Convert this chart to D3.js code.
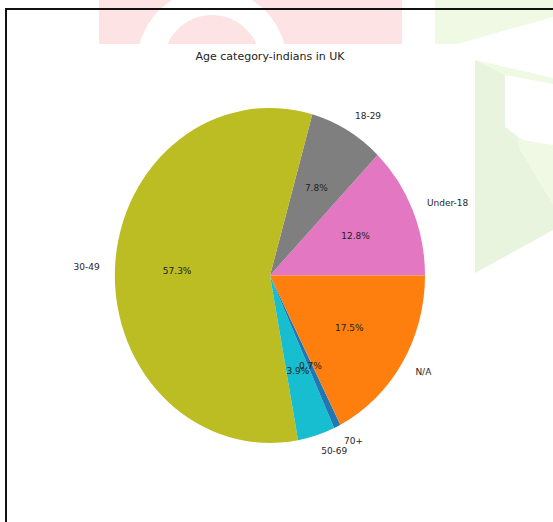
<!DOCTYPE html>
<html>
<head>
<meta charset="utf-8">
<script src="https://cdn.jsdelivr.net/npm/d3@7"></script>
<style>
  html, body { margin: 0; padding: 0; background: #fff; }
  svg { display: block; }
  text { font-family: "DejaVu Sans", sans-serif; }
</style>
</head>
<body>
<div id="chart"></div>
<script>
// ---- data ----
const title = "Age category-indians in UK";
const categories = ["Under-18", "18-29", "30-49", "50-69", "70+", "N/A"];
const values = [12.8, 7.8, 57.3, 3.9, 0.7, 17.5];
const colors = ["#e377c2", "#7f7f7f", "#bcbd22", "#17becf", "#1f77b4", "#ff7f0e"];

// ---- layout ----
const W = 553, H = 522;
const cx = 270, cy = 275.5, rx = 155, ry = 167.5;

const svg = d3.select("#chart").append("svg")
  .attr("width", W).attr("height", H);

svg.append("rect").attr("width", W).attr("height", H).attr("fill", "#fff");

// faint watermark in background
const wm = svg.append("g");
wm.append("rect").attr("x", 99).attr("y", 0).attr("width", 303).attr("height", 44).attr("fill", "#fde3e3");
wm.append("path")
  .attr("d", d3.arc().innerRadius(48.6).outerRadius(75).startAngle(-Math.PI / 2).endAngle(Math.PI / 2)())
  .attr("transform", "translate(212,63.6)")
  .attr("fill", "#fff");
wm.append("rect").attr("x", 99).attr("y", 44).attr("width", 303).attr("height", 40).attr("fill", "#fff");
wm.append("polygon").attr("points", "435,0 553,0 553,17 457,44 435,44").attr("fill", "#eff9e4");
wm.append("polygon").attr("points", "475,60 553,78 553,230 475,273").attr("fill", "#eff9e4");
wm.append("polygon").attr("points", "475,60 505,75 520,150 553,205 553,230 475,273").attr("fill", "#e9f4de");
wm.append("polygon").attr("points", "505,75 553,84 553,145 523,140 505,127").attr("fill", "#fff");

// frame
svg.append("path").attr("d", `M6,${H} L6,9 L${W},9`)
  .attr("fill", "none").attr("stroke", "#111").attr("stroke-width", 2);

// title
svg.append("text")
  .attr("x", cx).attr("y", 60)
  .attr("text-anchor", "middle")
  .attr("font-size", 11)
  .attr("fill", "#222")
  .text(title);

// pie: matplotlib style - start at 3 o'clock, counterclockwise
const data = categories.map((c, i) => ({ label: c, value: values[i], color: colors[i] }));
const pie = d3.pie().value(d => d.value).sort(null)
  .startAngle(Math.PI / 2).endAngle(Math.PI / 2 - 2 * Math.PI);
const arcs = pie(data);

const unitArc = d3.arc().innerRadius(0).outerRadius(1);

const g = svg.append("g").attr("transform", `translate(${cx},${cy})`);
g.append("g").attr("transform", `scale(${rx},${ry})`)
  .selectAll("path").data(arcs).join("path")
  .attr("d", unitArc)
  .attr("fill", d => d.data.color);

function pos(d, k) {
  const a = (d.startAngle + d.endAngle) / 2; // d3 angle: 0 at top, clockwise
  return [Math.sin(a) * rx * k, -Math.cos(a) * ry * k];
}

// outer labels
g.selectAll("text.lbl").data(arcs).join("text")
  .attr("class", "lbl")
  .attr("x", d => pos(d, 1.1)[0])
  .attr("y", d => pos(d, 1.1)[1])
  .attr("text-anchor", d => pos(d, 1.1)[0] >= 0 ? "start" : "end")
  .attr("dominant-baseline", "central")
  .attr("font-size", 9)
  .attr("fill", "#262626")
  .text(d => d.data.label);

// percentage labels
g.selectAll("text.pct").data(arcs).join("text")
  .attr("class", "pct")
  .attr("x", d => pos(d, 0.6)[0])
  .attr("y", d => pos(d, 0.6)[1])
  .attr("text-anchor", "middle")
  .attr("dominant-baseline", "central")
  .attr("font-size", 9)
  .attr("fill", "#222")
  .text(d => d.data.value.toFixed(1) + "%");
</script>
</body>
</html>
